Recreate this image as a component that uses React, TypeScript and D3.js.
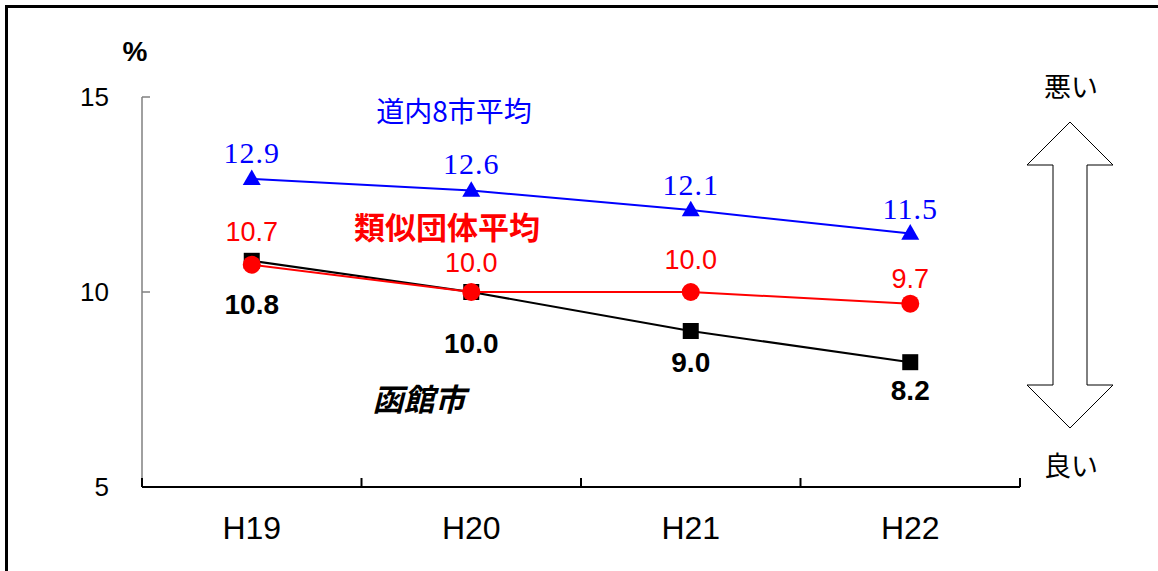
import React from "react";
import * as d3 from "d3";

const categories = ["H19", "H20", "H21", "H22"];
const hakodate = [10.8, 10.0, 9.0, 8.2];
const ruiji = [10.7, 10.0, 10.0, 9.7];
const dounai = [12.9, 12.6, 12.1, 11.5];
const yTicks = [5, 10, 15];
// label vertical offsets (px) relative to point
const hakodateLabelDy = [43, 51, 31, 28];
const ruijiLabelDy = [-33, -30, -33, -25];
const dounaiLabelDy = [-26, -27, -25, -25];

const W = 1158;
const H = 571;
const left = 142;
const right = 1020;
const top = 97;
const bottom = 487;

export default function App() {
  const x = d3.scaleBand<string>().domain(categories).range([left, right]);
  const y = d3.scaleLinear().domain([5, 15]).range([bottom, top]);
  const cx = (c: string) => (x(c) as number) + x.bandwidth() / 2;

  const line = d3
    .line<number>()
    .x((_, i) => cx(categories[i]))
    .y((d) => y(d));

  const sans = "'Liberation Sans', Arial, sans-serif";
  const serif = "'Liberation Serif', 'DejaVu Serif', serif";
  const jp = "'Noto Sans CJK JP', sans-serif";

  const tri = d3.symbol().type(d3.symbolTriangle).size(140)() as string;

  const boundaries = [left, ...categories.map((c) => (x(c) as number) + x.bandwidth())];

  // arrow geometry
  const ax = 1070;
  const aHalfHead = 43;
  const aHalfShaft = 17;
  const aTop = 122;
  const aHeadTop = 165;
  const aHeadBot = 385;
  const aBot = 428;
  const arrowPts = [
    [ax, aTop],
    [ax + aHalfHead, aHeadTop],
    [ax + aHalfShaft, aHeadTop],
    [ax + aHalfShaft, aHeadBot],
    [ax + aHalfHead, aHeadBot],
    [ax, aBot],
    [ax - aHalfHead, aHeadBot],
    [ax - aHalfShaft, aHeadBot],
    [ax - aHalfShaft, aHeadTop],
    [ax - aHalfHead, aHeadTop],
  ];

  return (
    <svg
      width={W}
      height={H}
      style={{ position: "absolute", left: 0, top: 0, background: "#fff" }}
    >
      <rect x={0} y={0} width={W} height={H} fill="#fff" />
      <rect x={6.5} y={6.5} width={W + 20} height={H + 20} fill="none" stroke="#000" strokeWidth={3} />

      {/* y axis */}
      <line x1={left} x2={left} y1={top} y2={bottom} stroke="#808080" strokeWidth={1.5} />
      {yTicks.map((t) => (
        <g key={t}>
          {t !== 5 && (
            <line x1={left} x2={left + 8} y1={y(t)} y2={y(t)} stroke="#808080" strokeWidth={1.5} />
          )}
          <text
            x={109}
            y={y(t)}
            dy="0.36em"
            textAnchor="end"
            fontFamily={sans}
            fontSize={26}
            fill="#000"
          >
            {t}
          </text>
        </g>
      ))}
      <text x={135} y={51} dy="0.36em" textAnchor="middle" fontFamily={sans} fontSize={28} fontWeight="bold">
        %
      </text>

      {/* x axis */}
      <line x1={left} x2={right} y1={bottom} y2={bottom} stroke="#000" strokeWidth={2} />
      {boundaries.map((b, i) => (
        <line key={i} x1={b} x2={b} y1={bottom} y2={bottom - 9} stroke="#000" strokeWidth={2} />
      ))}
      {categories.map((c) => (
        <text key={c} x={cx(c)} y={527} dy="0.36em" textAnchor="middle" fontFamily={sans} fontSize={32}>
          {c}
        </text>
      ))}

      {/* lines */}
      <path d={line(dounai) as string} fill="none" stroke="#0000ff" strokeWidth={2} />
      <path d={line(hakodate) as string} fill="none" stroke="#000" strokeWidth={2} />
      <path d={line(ruiji) as string} fill="none" stroke="#ff0000" strokeWidth={2} />

      {/* markers */}
      {dounai.map((v, i) => (
        <path key={"t" + i} d={tri} transform={`translate(${cx(categories[i])},${y(v) + 1})`} fill="#0000ff" />
      ))}
      {hakodate.map((v, i) => (
        <rect key={"s" + i} x={cx(categories[i]) - 8} y={y(v) - 8} width={16} height={16} fill="#000" />
      ))}
      {ruiji.map((v, i) => (
        <circle key={"c" + i} cx={cx(categories[i])} cy={y(v)} r={9} fill="#ff0000" />
      ))}

      {/* value labels */}
      {dounai.map((v, i) => (
        <text
          key={"tl" + i}
          x={cx(categories[i])}
          y={y(v) + dounaiLabelDy[i]}
          dy="0.34em"
          textAnchor="middle"
          fontFamily={serif}
          fontSize={30}
          letterSpacing={1}
          fill="#0000ff"
        >
          {v.toFixed(1)}
        </text>
      ))}
      {ruiji.map((v, i) => (
        <text
          key={"rl" + i}
          x={cx(categories[i])}
          y={y(v) + ruijiLabelDy[i]}
          dy="0.36em"
          textAnchor="middle"
          fontFamily={sans}
          fontSize={27}
          fill="#ff0000"
        >
          {v.toFixed(1)}
        </text>
      ))}
      {hakodate.map((v, i) => (
        <text
          key={"hl" + i}
          x={cx(categories[i])}
          y={y(v) + hakodateLabelDy[i]}
          dy="0.36em"
          textAnchor="middle"
          fontFamily={sans}
          fontSize={28}
          fontWeight="bold"
          fill="#000"
        >
          {v.toFixed(1)}
        </text>
      ))}

      {/* series names */}
      <text x={454} y={112} dy="0.36em" textAnchor="middle" fontFamily={jp} fontSize={28} fill="#0000ff">
        道内8市平均
      </text>
      <text x={447} y={228} dy="0.36em" textAnchor="middle" fontFamily={jp} fontSize={31} fontWeight="bold" fill="#ff0000">
        類似団体平均
      </text>
      <text
        x={419}
        y={400}
        dy="0.36em"
        textAnchor="middle"
        fontFamily={jp}
        fontSize={31}
        fontWeight="bold"
        fontStyle="italic"
        fill="#000"
      >
        函館市
      </text>

      {/* arrow */}
      <polygon points={arrowPts.map((p) => p.join(",")).join(" ")} fill="#fff" stroke="#000" strokeWidth={1} />
      <text x={1071} y={87} dy="0.36em" textAnchor="middle" fontFamily={jp} fontSize={27}>
        悪い
      </text>
      <text x={1071} y={466} dy="0.36em" textAnchor="middle" fontFamily={jp} fontSize={27}>
        良い
      </text>
    </svg>
  );
}
